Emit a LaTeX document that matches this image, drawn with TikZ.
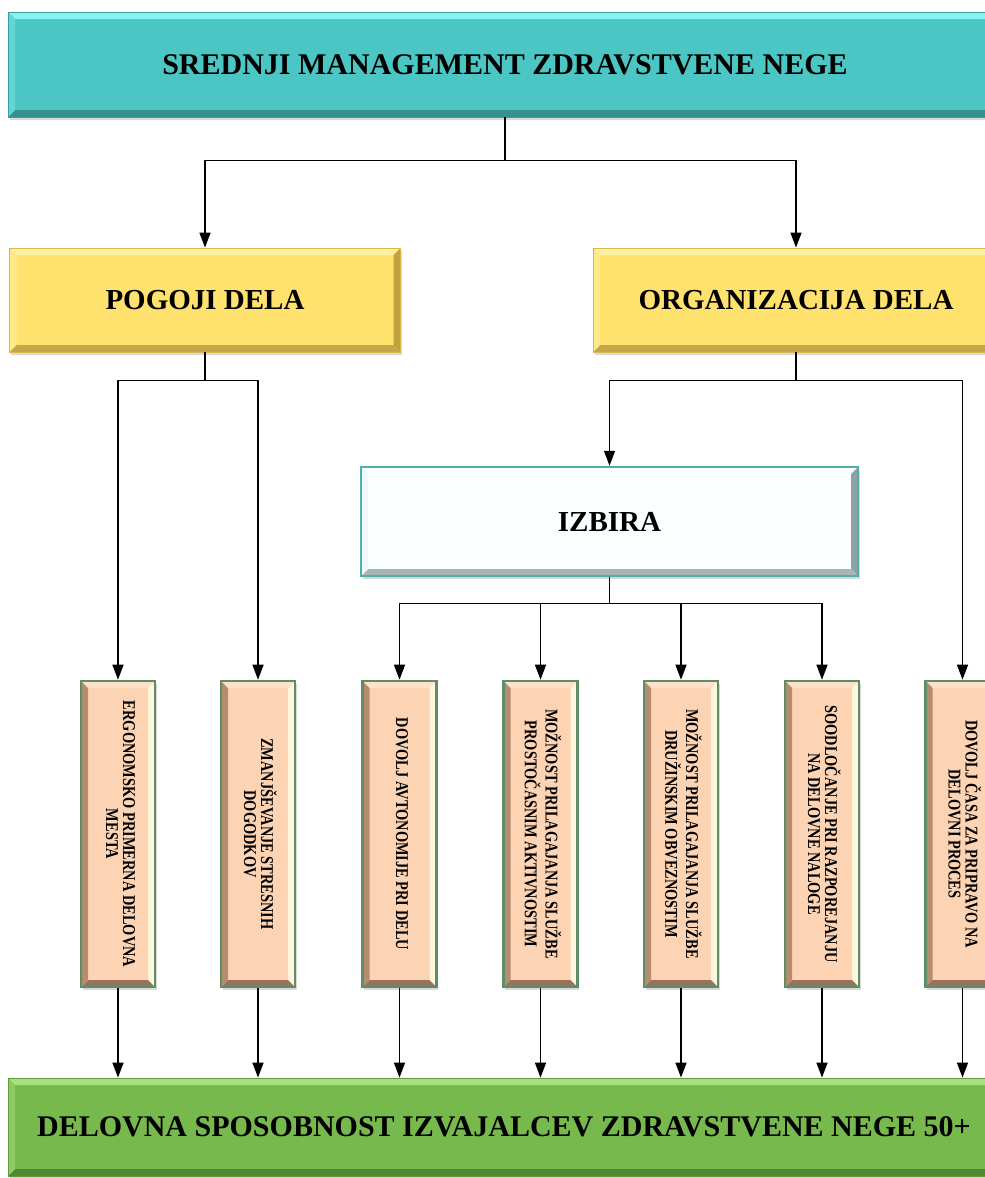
\documentclass[tikz,border=0pt]{standalone}
\usepackage{fontspec}
\usepackage{graphicx}
\setmainfont{Liberation Serif}
\newfontfamily\narrowserif[FakeStretch=0.8]{Liberation Serif}
\usetikzlibrary{arrows.meta,shadows}

% box colours
\definecolor{tealbase}{HTML}{4BC6C4}\definecolor{tealtop}{HTML}{86F2EF}
\definecolor{tealleft}{HTML}{63D6D3}\definecolor{tealright}{HTML}{3FA9A7}
\definecolor{tealbot}{HTML}{35908E}\definecolor{tealedge}{HTML}{3A9E9C}
\definecolor{yelbase}{HTML}{FFE26E}\definecolor{yeltop}{HTML}{FFF0A0}
\definecolor{yelleft}{HTML}{FFE985}\definecolor{yelright}{HTML}{C2A23E}
\definecolor{yelbot}{HTML}{C4A748}\definecolor{yeledge}{HTML}{D6B94E}
\definecolor{izbase}{HTML}{FBFFFF}\definecolor{iztop}{HTML}{FFFFFF}
\definecolor{izleft}{HTML}{EEF8F8}\definecolor{izright}{HTML}{8FA3A3}
\definecolor{izbot}{HTML}{A4B6B6}\definecolor{izedge}{HTML}{4FAFAB}
\definecolor{peach}{HTML}{FCD4B3}\definecolor{peachtop}{HTML}{FDE2C9}
\definecolor{peachright}{HTML}{FFF6DD}\definecolor{peachbot}{HTML}{96735A}
\definecolor{peachleft}{HTML}{B48C70}\definecolor{peachedge}{HTML}{5E8E68}
\definecolor{grnbase}{HTML}{78B94E}\definecolor{grntop}{HTML}{A6E37E}
\definecolor{grnleft}{HTML}{8CCB62}\definecolor{grnright}{HTML}{5E9C39}
\definecolor{grnbot}{HTML}{4F8A30}\definecolor{grnedge}{HTML}{5F9A3B}

% vertical label, first line on the right
\newcommand\vlabel[1]{\rotatebox{-90}{\begin{tabular}{@{}c@{}}#1\end{tabular}}}

\begin{document}
\begin{tikzpicture}[x=1pt,y=-1pt,
  bevel/.style n args={4}{path picture={
    \fill[#1] (path picture bounding box.north west) -- (path picture bounding box.north east)
      -- ([shift={(-7pt,-7pt)}]path picture bounding box.north east)
      -- ([shift={(7pt,-7pt)}]path picture bounding box.north west) -- cycle;
    \fill[#2] (path picture bounding box.north east) -- (path picture bounding box.south east)
      -- ([shift={(-7pt,7pt)}]path picture bounding box.south east)
      -- ([shift={(-7pt,-7pt)}]path picture bounding box.north east) -- cycle;
    \fill[#3] (path picture bounding box.south east) -- (path picture bounding box.south west)
      -- ([shift={(7pt,7pt)}]path picture bounding box.south west)
      -- ([shift={(-7pt,7pt)}]path picture bounding box.south east) -- cycle;
    \fill[#4] (path picture bounding box.south west) -- (path picture bounding box.north west)
      -- ([shift={(7pt,-7pt)}]path picture bounding box.north west)
      -- ([shift={(7pt,7pt)}]path picture bounding box.south west) -- cycle;
  }},
  softshadow/.style={drop shadow={shadow xshift=1.5pt,shadow yshift=-3pt,opacity=0.25,fill=black!60}},
  box/.style={rectangle,inner sep=0pt,align=center,softshadow,
    font=\bfseries\fontsize{29}{33}\selectfont},
  bigtext/.style={font=\bfseries\fontsize{30}{34}\selectfont},
  headbox/.style={box,bigtext,fill=tealbase,draw=tealedge,line width=0.8pt,
    bevel={tealtop}{tealright}{tealbot}{tealleft}},
  areabox/.style={box,fill=yelbase,draw=yeledge,line width=0.8pt,
    bevel={yeltop}{yelright}{yelbot}{yelleft}},
  choicebox/.style={box,fill=izbase,draw=izedge,line width=2.5pt,
    bevel={iztop}{izright}{izbot}{izleft}},
  resultbox/.style={box,bigtext,fill=grnbase,draw=grnedge,line width=0.8pt,
    bevel={grntop}{grnright}{grnbot}{grnleft}},
  factor/.style={rectangle,inner sep=0pt,minimum width=74pt,minimum height=306pt,
    fill=peach,draw=peachedge,line width=2.6pt,softshadow,
    bevel={peachtop}{peachright}{peachbot}{peachleft},
    font=\narrowserif\bfseries\fontsize{18}{16.8}\selectfont},
  link/.style={draw=black,line width=1.5pt},
  arr/.style={link,-{Triangle[width=11pt,length=15pt]}}
]
\useasboundingbox (0,0) rectangle (985,1178);
\clip (0,0) rectangle (985,1178);

% main boxes
\node[headbox,minimum width=994pt,minimum height=105pt] (t) at (505,64.5)
  {SREDNJI MANAGEMENT ZDRAVSTVENE NEGE};
\node[areabox,minimum width=391pt,minimum height=104pt] (p) at (205,300) {POGOJI DELA};
\node[areabox,minimum width=406pt,minimum height=104pt] (o) at (796,300) {ORGANIZACIJA DELA};
\node[choicebox,minimum width=497pt,minimum height=109pt] (iz) at (609.5,521.5) {IZBIRA};
\node[resultbox,minimum width=992pt,minimum height=98pt] (g) at (504,1127)
  {DELOVNA SPOSOBNOST IZVAJALCEV ZDRAVSTVENE NEGE 50+};

% factor boxes
\node[factor] (b1) at (118,834) {\vlabel{ERGONOMSKO PRIMERNA DELOVNA\\MESTA}};
\node[factor] (b2) at (258,834) {\vlabel{ZMANJŠEVANJE STRESNIH\\DOGODKOV}};
\node[factor] (b3) at (399.5,834) {\vlabel{DOVOLJ AVTONOMIJE PRI DELU}};
\node[factor] (b4) at (540.5,834) {\vlabel{MOŽNOST PRILAGAJANJA SLUŽBE\\PROSTOČASNIM AKTIVNOSTIM}};
\node[factor] (b5) at (681,834) {\vlabel{MOŽNOST PRILAGAJANJA SLUŽBE\\DRUŽINSKIM OBVEZNOSTIM}};
\node[factor] (b6) at (822,834) {\vlabel{SOODLOČANJE PRI RAZPOREJANJU\\NA DELOVNE NALOGE}};
\node[factor] (b7) at (962.5,834) {\vlabel{DOVOLJ ČASA ZA PRIPRAVO NA\\DELOVNI PROCES}};

% connectors
\draw[link] (t.south) -- ++(0,43) coordinate (j1);
\draw[arr] (j1) -| (p.north);
\draw[arr] (j1) -| (o.north);

\draw[link] (p.south) -- ++(0,28) coordinate (j2);
\draw[arr] (j2) -| (b1.north);
\draw[arr] (j2) -| (b2.north);

\draw[link] (o.south) -- ++(0,28) coordinate (j3);
\draw[arr] (j3) -| (iz.north);
\draw[arr] (j3) -| (b7.north);

\draw[link] (iz.south) -- ++(0,26) coordinate (j4);
\foreach \b in {b3,b4,b5,b6} \draw[arr] (j4) -| (\b.north);

\foreach \b in {b1,b2,b3,b4,b5,b6,b7} \draw[arr] (\b.south) -- (\b.south |- g.north);
\end{tikzpicture}
\end{document}
